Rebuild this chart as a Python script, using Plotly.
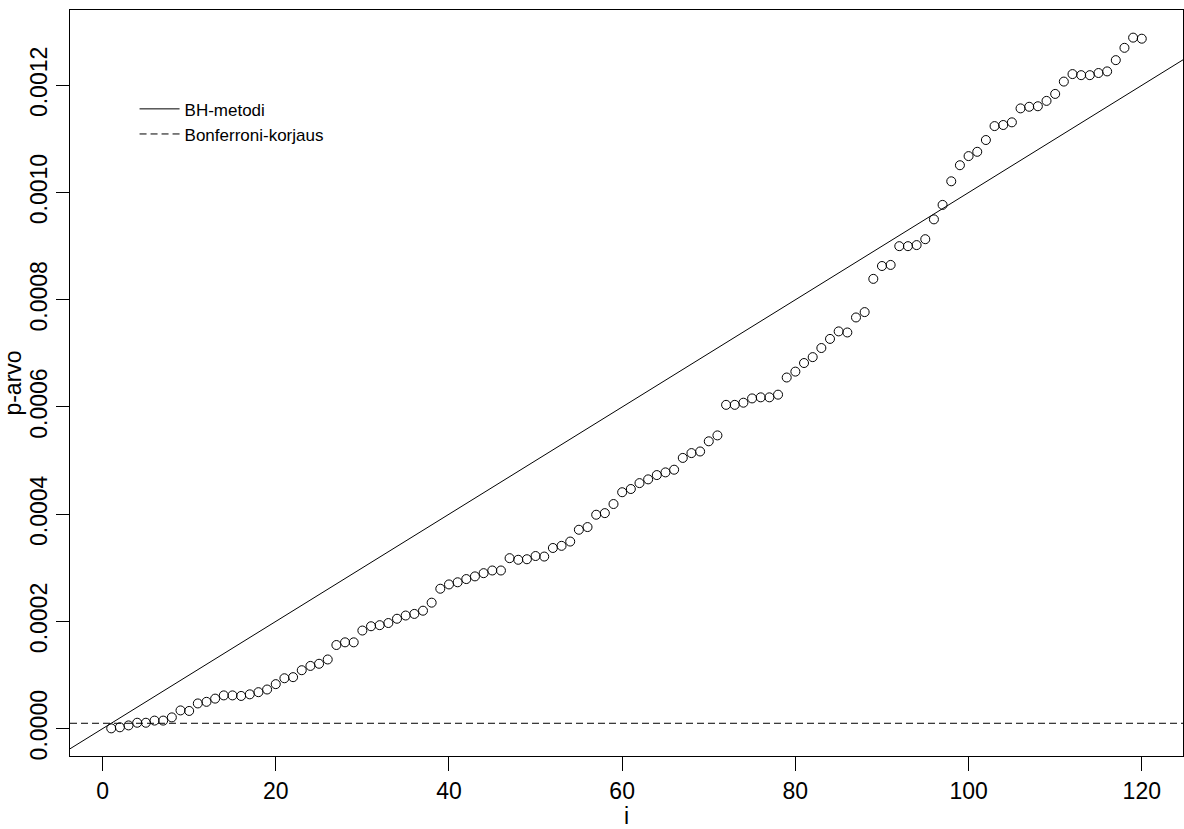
import plotly.graph_objects as go

# ---- data ----
i_vals = list(range(1, 121))
p_vals = [
    0.0000005, 0.0000025, 0.000006, 0.000011, 0.000011, 0.000015, 0.000015, 0.000021, 0.000034, 0.000033,
    0.000047, 0.000050, 0.000056, 0.000062, 0.000062, 0.000061, 0.000064, 0.000068, 0.000073, 0.000083,
    0.000094, 0.000096, 0.000109, 0.000117, 0.000121, 0.000129, 0.000156, 0.000161, 0.000161, 0.000183,
    0.000191, 0.000193, 0.000197, 0.000205, 0.000211, 0.000214, 0.000220, 0.000235, 0.000261, 0.000269,
    0.000273, 0.000279, 0.000284, 0.000290, 0.000295, 0.000295, 0.000318, 0.000315, 0.000316, 0.000322,
    0.000321, 0.000337, 0.000341, 0.000349, 0.000371, 0.000376, 0.000399, 0.000402, 0.000419, 0.000441,
    0.000447, 0.000458, 0.000465, 0.000473, 0.000478, 0.000483, 0.000505, 0.000514, 0.000517, 0.000536,
    0.000547, 0.000604, 0.000604, 0.000608, 0.000616, 0.000618, 0.000618, 0.000623, 0.000655, 0.000666,
    0.000682, 0.000693, 0.000710, 0.000727, 0.000741, 0.000739, 0.000767, 0.000777, 0.000839, 0.000863,
    0.000865, 0.000900, 0.000900, 0.000902, 0.000913, 0.000950, 0.000977, 0.001021, 0.001051, 0.001068,
    0.001076, 0.001098, 0.001124, 0.001126, 0.001131, 0.001157, 0.001160, 0.001161, 0.001171, 0.001184,
    0.001207, 0.001221, 0.001219, 0.001219, 0.001223, 0.001226, 0.001247, 0.001270, 0.001289, 0.001287,
]
alpha = 0.05
m = 5000
legend_labels = ["BH-metodi", "Bonferroni-korjaus"]
x_ticks = [0, 20, 40, 60, 80, 100, 120]
y_ticks = [0.0, 0.0002, 0.0004, 0.0006, 0.0008, 0.0010, 0.0012]

# R-style 4% axis extension
xmin, xmax = min(i_vals), max(i_vals)
ymin, ymax = min(p_vals), max(p_vals)
xr = [xmin - 0.04 * (xmax - xmin), xmax + 0.04 * (xmax - xmin)]
yr = [ymin - 0.04 * (ymax - ymin), ymax + 0.04 * (ymax - ymin)]

FONT = "Liberation Sans, Arial, sans-serif"

fig = go.Figure()
fig.add_trace(go.Scatter(
    x=i_vals, y=p_vals, mode="markers",
    marker=dict(symbol="circle-open", size=9, color="black", line=dict(width=1, color="black")),
    showlegend=False,
))
fig.add_trace(go.Scatter(
    x=xr, y=[alpha * xv / m for xv in xr], mode="lines",
    line=dict(color="black", width=1), name=legend_labels[0],
))
fig.add_trace(go.Scatter(
    x=xr, y=[alpha / m, alpha / m], mode="lines",
    line=dict(color="black", width=1, dash="7px,4px"), name=legend_labels[1],
))

fig.update_layout(
    width=1184, height=829,
    margin=dict(l=70, r=1, t=10, b=73),
    paper_bgcolor="white", plot_bgcolor="white",
    font=dict(family=FONT, color="black", size=22),
    legend=dict(
        x=0.058, y=0.891, xanchor="left", yanchor="top",
        bgcolor="rgba(0,0,0,0)", font=dict(size=17, family=FONT),
        tracegroupgap=0, itemwidth=40,
    ),
    xaxis=dict(
        range=xr, tickvals=x_ticks, ticktext=[str(v) for v in x_ticks],
        showgrid=False, zeroline=False, showline=True, mirror=True,
        linecolor="black", linewidth=1, ticks="outside", ticklen=14,
        tickcolor="black", tickwidth=1, tickfont=dict(size=23),
        title=dict(text="i", font=dict(size=23), standoff=4),
    ),
    yaxis=dict(
        range=yr, tickvals=y_ticks, ticktext=["%.4f" % v for v in y_ticks],
        showgrid=False, zeroline=False, showline=True, mirror=True,
        linecolor="black", linewidth=1, ticks="outside", ticklen=13,
        tickcolor="black", tickwidth=1, tickangle=-90, tickfont=dict(size=23),
        title=dict(text="p-arvo", font=dict(size=23), standoff=0),
    ),
)

fig.write_html("out.html")
